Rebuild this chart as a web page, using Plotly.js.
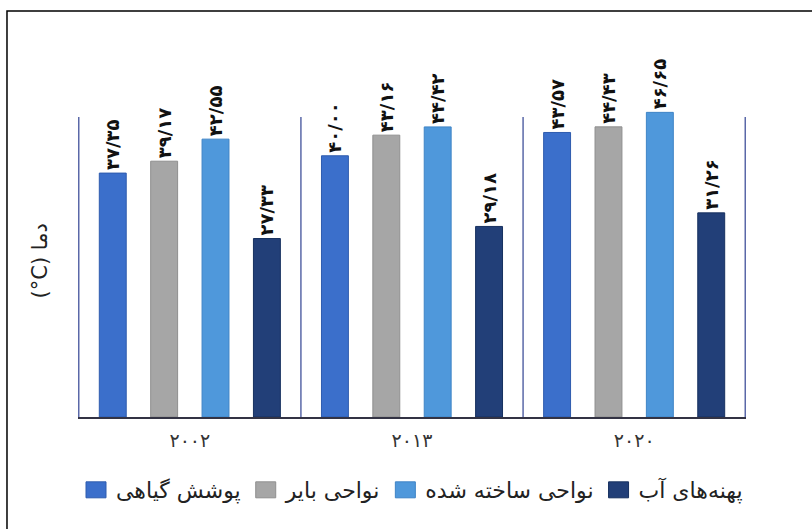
<!DOCTYPE html>
<html>
<head>
<meta charset="utf-8">
<script src="https://cdn.plot.ly/plotly-3.0.1.min.js"></script>
<style>
  html, body { margin: 0; padding: 0; background: #ffffff; }
  #chart { width: 812px; height: 529px; }
  #chart .xtick text { letter-spacing: 5px; }
  #chart text.bartext { letter-spacing: 2px; }
  #chart .legend .legendpoints path { d: path("M10,8H-10V-8H10Z"); }
</style>
</head>
<body>
<div id="chart"></div>
<script>
// Categories (years) and tick labels
const years = ["2002", "2013", "2020"];
const yearLabels = ["۲۰۰۲", "۲۰۱۳", "۲۰۲۰"];

// Series names
const seriesNames = ["پوشش گیاهی", "نواحی بایر", "نواحی ساخته شده", "پهنه‌های آب"];

// Series values (°C)
const vegetation = [37.35, 40.00, 43.57];
const barren     = [39.17, 43.16, 44.43];
const builtUp    = [42.55, 44.42, 46.65];
const water      = [27.33, 29.18, 31.26];

// Data labels as printed (Persian digits)
const vegetationLabels = ["۳۷/۳۵", "۴۰/۰۰", "۴۳/۵۷"];
const barrenLabels     = ["۳۹/۱۷", "۴۳/۱۶", "۴۴/۴۳"];
const builtUpLabels    = ["۴۲/۵۵", "۴۴/۴۲", "۴۶/۶۵"];
const waterLabels      = ["۲۷/۳۳", "۲۹/۱۸", "۳۱/۲۶"];

const yTitle = "(°C) دما";

const colors = ["#3b6fcb", "#a6a6a6", "#4f98db", "#223f78"];
const lineColors = ["#2f5cae", "#8f8f8f", "#3f84c6", "#17305f"];

const values = [vegetation, barren, builtUp, water];
const labels = [vegetationLabels, barrenLabels, builtUpLabels, waterLabels];

const FONT = "DejaVu Sans, sans-serif";

const traces = values.map((v, i) => ({
  type: "bar",
  name: seriesNames[i],
  x: years,
  y: v,
  text: labels[i],
  textposition: "outside",
  textangle: -90,
  constraintext: "none",
  textfont: { family: FONT, size: 18, color: "#111111", weight: "bold" },
  cliponaxis: false,
  marker: { color: colors[i], line: { color: lineColors[i], width: 1 } },
  hoverinfo: "skip"
}));

// Vertical separators at category boundaries (plot-area height of the original chart)
const gridTop = 45.94;
const shapes = [];
for (let k = 0; k <= years.length; k++) {
  shapes.push({
    type: "line", xref: "x", yref: "y",
    x0: k - 0.5, x1: k - 0.5, y0: 0, y1: gridTop,
    line: { color: "#5a68a8", width: 1.5 },
    layer: "below"
  });
}
// Outer frame
shapes.push({
  type: "rect", xref: "paper", yref: "paper",
  x0: -0.1063, x1: 1.11, y0: -0.32, y1: 1.0769,
  line: { color: "#000000", width: 1.5 },
  fillcolor: "rgba(0,0,0,0)", layer: "below"
});

const layout = {
  width: 812,
  height: 529,
  margin: { l: 78, r: 66, t: 40, b: 112 },
  paper_bgcolor: "#ffffff",
  plot_bgcolor: "#ffffff",
  barmode: "group",
  bargap: 0.075,
  bargroupgap: 0.476,
  showlegend: true,
  legend: {
    orientation: "h",
    x: 0.5,
    xanchor: "center",
    y: -0.138,
    yanchor: "top",
    font: { family: FONT, size: 22, color: "#222222" },
    traceorder: "normal",
    itemwidth: 30
  },
  xaxis: {
    type: "category",
    tickmode: "array",
    tickvals: years,
    ticktext: yearLabels,
    ticks: "",
    ticklabelstandoff: 6,
    showgrid: false,
    showline: true,
    linecolor: "#333344",
    linewidth: 1.5,
    tickfont: { family: FONT, size: 19, color: "#333333" },
    fixedrange: true
  },
  yaxis: {
    range: [0, 57.73],
    showgrid: false,
    zeroline: false,
    showticklabels: false,
    ticks: "",
    showline: false,
    fixedrange: true
  },
  annotations: [{
    xref: "paper", yref: "paper",
    x: -0.057, y: 0.415,
    xanchor: "center", yanchor: "middle",
    text: yTitle,
    textangle: -90,
    showarrow: false,
    font: { family: FONT, size: 21, color: "#222222" }
  }],
  shapes: shapes
};

Plotly.newPlot("chart", traces, layout, { displayModeBar: false, staticPlot: true });
</script>
</body>
</html>
